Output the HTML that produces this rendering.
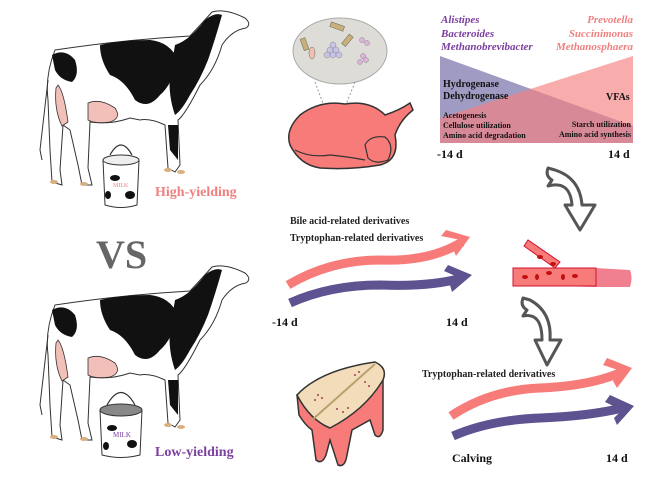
<!DOCTYPE html>
<html><head><meta charset="utf-8"><style>
html,body{margin:0;padding:0;background:#fff;}
svg{display:block;font-family:"Liberation Serif",serif;}
.b{font-weight:bold;}
</style></head><body>
<svg width="670" height="501" viewBox="0 0 670 501" xmlns="http://www.w3.org/2000/svg">
<defs>
<g id="cow">
  <path d="M55,50 Q120,40 190,36 Q205,20 212,12 Q225,8 245,18 Q252,24 246,28 Q232,30 222,45 Q215,70 200,85 Q185,115 178,120 L180,165 L175,172 L168,168 L165,125 Q150,118 140,120 L130,118 Q110,125 90,122 L88,168 L92,185 L82,185 L78,165 L70,130 L63,125 L60,170 L62,185 L52,182 L50,150 L48,100 Q45,75 55,50 Z" fill="#fff" stroke="#333" stroke-width="1"/>
  <path d="M100,45 Q120,40 150,40 Q170,42 178,60 Q172,85 160,95 Q148,110 135,100 Q125,80 110,75 Q100,60 100,45 Z" fill="#111"/>
  <path d="M175,45 Q190,40 205,20 Q215,12 222,15 Q215,40 208,60 Q200,80 190,95 Q182,110 175,115 Q168,95 170,75 Z" fill="#111"/>
  <path d="M52,55 Q65,48 75,60 Q80,75 72,82 Q60,80 55,70 Z" fill="#111"/>
  <path d="M168,125 L178,125 L178,160 L170,150 Z" fill="#111"/>
  <path d="M88,103 Q100,98 115,108 Q122,118 110,122 Q95,124 88,120 Z" fill="#f2c0b8" stroke="#333" stroke-width="0.8"/>
  <path d="M58,85 Q64,92 68,122 L62,126 Q54,110 56,88 Z" fill="#f2c0b8" stroke="#333" stroke-width="0.8"/>
  <path d="M48,80 L40,150 L42,160" fill="none" stroke="#333" stroke-width="1"/>
  <ellipse cx="54" cy="182" rx="4" ry="2" fill="#d8b080"/><ellipse cx="84" cy="184" rx="4" ry="2" fill="#d8b080"/>
  <ellipse cx="168" cy="170" rx="4" ry="2" fill="#d8b080"/><ellipse cx="181" cy="172" rx="4" ry="2" fill="#d8b080"/>
</g>
</defs>
<use href="#cow"/>
<use href="#cow" transform="translate(0,255)"/>
<path d="M110,155 Q121,135 132,155" fill="none" stroke="#333" stroke-width="1.2"/>
<path d="M103,160 L105,205 Q121,210 137,205 L139,160 Z" fill="#fff" stroke="#333"/>
<ellipse cx="121" cy="160" rx="18" ry="5" fill="#eee" stroke="#333"/>
<ellipse cx="115" cy="178" rx="5" ry="3" fill="#111"/><ellipse cx="130" cy="195" rx="5" ry="4" fill="#111"/><ellipse cx="108" cy="195" rx="3" ry="4" fill="#111"/>
<text x="113" y="187" font-size="6" fill="#f08080">MILK</text>
<path d="M107,405 Q121,380 135,405" fill="none" stroke="#333" stroke-width="1.2"/>
<path d="M100,410 L102,455 Q121,460 140,455 L142,410 Z" fill="#fff" stroke="#333"/>
<ellipse cx="121" cy="410" rx="21" ry="6" fill="#888" stroke="#333"/>
<ellipse cx="112" cy="428" rx="5" ry="3" fill="#111"/><ellipse cx="132" cy="444" rx="5" ry="4" fill="#111"/><ellipse cx="106" cy="446" rx="3" ry="4" fill="#111"/>
<text x="113" y="437" font-size="7" fill="#7b3fa0">MILK</text>
<text x="155" y="196" font-size="14" class="b" fill="#f08080">High-yielding</text>
<text x="155" y="456" font-size="14" class="b" fill="#7b3fa0">Low-yielding</text>
<text x="96" y="268" font-size="40" class="b" fill="#666">VS</text>
<ellipse cx="340" cy="51" rx="47" ry="33" fill="#dddcd6" stroke="#aaa"/>
<line x1="315" y1="82" x2="330" y2="122" stroke="#999" stroke-dasharray="2,2"/>
<line x1="355" y1="82" x2="339" y2="122" stroke="#999" stroke-dasharray="2,2"/>
<g fill="#c8c4e8" stroke="#888" stroke-width="0.5"><circle cx="330" cy="50" r="3"/><circle cx="336" cy="50" r="3"/><circle cx="333" cy="55" r="3"/><circle cx="339" cy="55" r="3"/><circle cx="327" cy="55" r="3"/><circle cx="333" cy="45" r="3"/></g>
<g fill="#e0b0e0" stroke="#888" stroke-width="0.5"><circle cx="362" cy="40" r="2.5"/><circle cx="367" cy="43" r="2.5"/><circle cx="360" cy="62" r="2.5"/><circle cx="366" cy="60" r="2.5"/><circle cx="363" cy="56" r="2.5"/></g>
<rect x="302" y="38" width="5" height="12" fill="#c8b078" stroke="#666" stroke-width="0.5" transform="rotate(-20 305 44)"/>
<rect x="330" y="24" width="14" height="5" fill="#c8b078" stroke="#666" stroke-width="0.5" transform="rotate(20 337 27)"/>
<rect x="345" y="34" width="5" height="12" fill="#c8b078" stroke="#666" stroke-width="0.5" transform="rotate(40 347 40)"/>
<ellipse cx="312" cy="53" rx="3" ry="6" fill="#f0c0b0" stroke="#666" stroke-width="0.5"/>
<path d="M300,115 Q320,100 345,104 Q370,100 385,115 Q400,110 410,103 L413,110 Q400,120 395,135 Q400,160 380,165 Q350,170 320,168 Q300,165 290,145 Q285,130 300,115 Z" fill="#f77b78" stroke="#333" stroke-width="1.5"/>
<path d="M365,145 Q370,135 385,137 Q395,145 388,160 Q375,165 368,158 Z" fill="#f77b78" stroke="#333" stroke-width="1.2"/>
<path d="M295,150 Q310,158 330,155 Q350,157 365,160" fill="none" stroke="#333" stroke-width="1.2"/>
<polygon points="440,56 633,126 633,143 440,143" fill="#8f8ab8" opacity="0.85"/>
<polygon points="633,56 440,118 440,143 633,143" fill="#f68080" opacity="0.65"/>
<g font-style="italic" class="b" font-size="11">
<text x="441" y="23" fill="#7b3fa0">Alistipes</text>
<text x="441" y="37" fill="#7b3fa0">Bacteroides</text>
<text x="441" y="50" fill="#7b3fa0">Methanobrevibacter</text>
<text x="633" y="23" fill="#f08080" text-anchor="end">Prevotella</text>
<text x="633" y="37" fill="#f08080" text-anchor="end">Succinimonas</text>
<text x="633" y="50" fill="#f08080" text-anchor="end">Methanosphaera</text>
</g>
<g class="b" fill="#111">
<text x="443" y="87" font-size="10">Hydrogenase</text>
<text x="443" y="99" font-size="10">Dehydrogenase</text>
<text x="606" y="100" font-size="10">VFAs</text>
<text x="443" y="118" font-size="8">Acetogenesis</text>
<text x="443" y="128" font-size="8">Cellulose utilization</text>
<text x="443" y="138" font-size="8">Amino acid degradation</text>
<text x="631" y="127" font-size="8" text-anchor="end">Starch utilization</text>
<text x="631" y="137" font-size="8" text-anchor="end">Amino acid synthesis</text>
<text x="437" y="158" font-size="12">-14 d</text>
<text x="608" y="158" font-size="12">14 d</text>
</g>
<path d="M548,168 Q545,176 552,180 L548,186 Q570,180 572,205 L565,205 L580,230 L595,205 L582,205 Q580,178 555,170 Z" fill="#fff" stroke="#555" stroke-width="3" stroke-linejoin="round"/>
<path d="M523,298 Q520,306 527,310 L523,316 Q542,312 542,340 L535,340 L547,365 L561,340 L550,340 Q552,312 530,300 Z" fill="#fff" stroke="#555" stroke-width="3" stroke-linejoin="round"/>
<path d="M515,268 L595,268 L630,270 Q633,278 630,287 L595,287 L515,285 Z" fill="#f08090"/>
<rect x="513" y="268" width="83" height="18" fill="#f77b78" stroke="#d01030" stroke-width="1"/>
<path d="M524,246 L528,240 L560,262 L555,268 Z" fill="#f77b78" stroke="#d01030" stroke-width="1"/>
<g fill="#c01010"><ellipse cx="525" cy="277" rx="3" ry="2"/><ellipse cx="537" cy="277" rx="2" ry="3"/><ellipse cx="549" cy="273" rx="3" ry="2"/><ellipse cx="563" cy="277" rx="2" ry="3"/><ellipse cx="575" cy="276" rx="3" ry="2"/><ellipse cx="540" cy="257" rx="3" ry="2"/><ellipse cx="553" cy="264" rx="3" ry="2"/></g>
<g fill="none" stroke-width="9">
<path d="M288,285 Q330,260 380,260 Q430,262 462,242" stroke="#f77b78"/>
<path d="M290,303 Q330,285 380,285 Q430,287 462,278" stroke="#5e5290"/>
</g>
<polygon points="446,230 470,237 456,256 453,249 461,240 441,236" fill="#f77b78"/>
<polygon points="448,265 472,275 452,292 450,285 460,278 444,271" fill="#5e5290"/>
<g class="b" fill="#222" font-size="10">
<text x="290" y="224">Bile acid-related derivatives</text>
<text x="290" y="241">Tryptophan-related derivatives</text>
<text x="422" y="377">Tryptophan-related derivatives</text>
</g>
<g class="b" fill="#111" font-size="12">
<text x="272" y="326">-14 d</text>
<text x="446" y="326">14 d</text>
<text x="452" y="462">Calving</text>
<text x="606" y="462">14 d</text>
</g>
<path d="M297,395 L299,415 Q305,425 312,430 L316,460 Q322,465 326,455 L330,440 L338,465 Q345,468 347,455 L352,430 L370,420 L375,435 Q380,440 383,430 L383,380 Z" fill="#f77b78" stroke="#333" stroke-width="1.5"/>
<path d="M297,395 Q320,370 375,362 Q388,368 383,380 Q365,410 330,428 Q310,420 297,395 Z" fill="#f3dcba" stroke="#333" stroke-width="1.5"/>
<line x1="312" y1="420" x2="375" y2="364" stroke="#b8a070" stroke-width="2"/>
<g fill="#a04050"><circle cx="318" cy="395" r="1"/><circle cx="322" cy="398" r="1"/><circle cx="315" cy="400" r="1"/><circle cx="355" cy="375" r="1"/><circle cx="359" cy="372" r="1"/><circle cx="365" cy="382" r="1"/><circle cx="369" cy="386" r="1"/><circle cx="337" cy="409" r="1"/><circle cx="343" cy="412" r="1"/><circle cx="348" cy="408" r="1"/></g>
<g fill="none" stroke-width="9">
<path d="M451,416 Q490,390 540,388 Q590,386 622,372" stroke="#f77b78"/>
<path d="M453,436 Q490,420 540,418 Q590,416 622,408" stroke="#5e5290"/>
</g>
<polygon points="607,358 632,368 617,388 613,381 621,371 603,365" fill="#f77b78"/>
<polygon points="610,395 634,406 617,425 614,418 622,410 605,402" fill="#5e5290"/>
</svg>
</body></html>
